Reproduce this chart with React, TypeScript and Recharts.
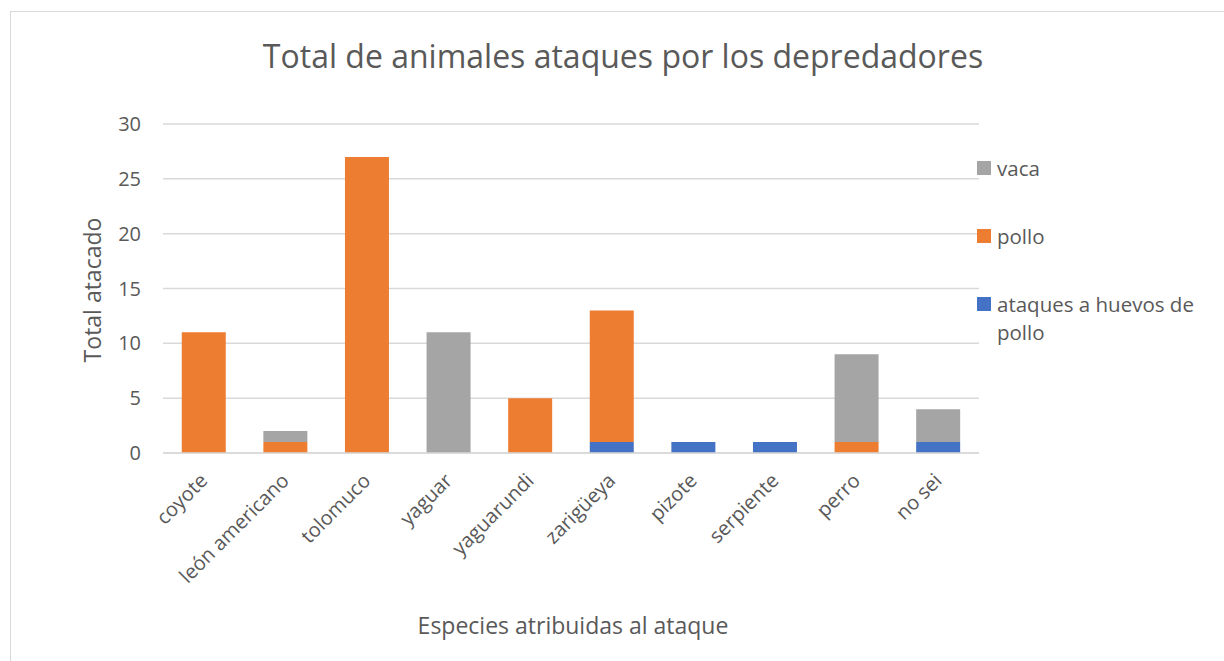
import React from 'react';
import { BarChart, Bar, XAxis, YAxis, CartesianGrid, Legend, Label } from 'recharts';

const categories = ['coyote', 'león americano', 'tolomuco', 'yaguar', 'yaguarundi', 'zarigüeya', 'pizote', 'serpiente', 'perro', 'no sei'];
const huevos = [0, 0, 0, 0, 0, 1, 1, 1, 0, 1];
const pollo = [11, 1, 27, 0, 5, 12, 0, 0, 1, 0];
const vaca = [0, 1, 0, 11, 0, 0, 0, 0, 8, 3];
const yTicks = [0, 5, 10, 15, 20, 25, 30];

const data = categories.map((name, i) => ({ name, huevos: huevos[i], pollo: pollo[i], vaca: vaca[i] }));

const FONT = '"Open Sans", sans-serif';
const TXT = '#595959';

const XTick = (props: any) => {
  const { x, y, payload } = props;
  const ax = x - 7;
  const ay = y + 9;
  return (
    <text
      x={ax}
      y={ay}
      transform={`rotate(-45, ${ax}, ${ay})`}
      textAnchor="end"
      dominantBaseline="hanging"
      fontSize={20}
      fontFamily={FONT}
      fill={TXT}
    >
      {payload.value}
    </text>
  );
};

const legendItems = [
  { key: 'vaca', color: '#A5A5A5', lines: ['vaca'] },
  { key: 'pollo', color: '#ED7D31', lines: ['pollo'] },
  { key: 'huevos', color: '#4472C4', lines: ['ataques a huevos de', 'pollo'] },
];

const LegendContent = () => (
  <div style={{ fontFamily: FONT, fontSize: 20.5, color: TXT }}>
    {legendItems.map((it) => (
      <div key={it.key} style={{ display: 'flex', alignItems: 'flex-start', height: 68 }}>
        <div style={{ width: 14, height: 14, background: it.color, marginTop: 7, marginRight: 6, flex: 'none' }} />
        <div style={{ lineHeight: '28px', whiteSpace: 'nowrap' }}>
          {it.lines.map((l, j) => (
            <div key={j}>{l}</div>
          ))}
        </div>
      </div>
    ))}
  </div>
);

export default function App() {
  return (
    <div style={{ position: 'fixed', left: 0, top: 0, width: 1224, height: 661, background: '#fff', overflow: 'hidden' }}>
      <div style={{ position: 'absolute', left: 10, top: 11, width: 1300, height: 800, borderTop: '1px solid #d9d9d9', borderLeft: '1px solid #d9d9d9' }} />
      <div
        style={{
          position: 'absolute',
          left: 0,
          width: 1246,
          top: 34,
          textAlign: 'center',
          fontFamily: FONT,
          fontSize: 32,
          color: TXT,
          lineHeight: '44px',
        }}
      >
        Total de animales ataques por los depredadores
      </div>
      <div style={{ position: 'absolute', left: 0, top: 0 }}>
        <BarChart
          width={1224}
          height={661}
          data={data}
          margin={{ top: 124, right: 5, bottom: 88, left: 103 }}
          barCategoryGap="23%"
        >
          <CartesianGrid vertical={false} stroke="#d9d9d9" strokeWidth={1.5} />
          <XAxis
            dataKey="name"
            height={120}
            tick={<XTick />}
            tickLine={false}
            axisLine={{ stroke: '#d9d9d9', strokeWidth: 1.5 }}
            interval={0}
          >
            <Label
              content={() => (
                <text x={573} y={634} textAnchor="middle" fontSize={23} fontFamily={FONT} fill={TXT}>
                  Especies atribuidas al ataque
                </text>
              )}
            />
          </XAxis>
          <YAxis
            width={60}
            domain={[0, 30]}
            ticks={yTicks}
            tickLine={false}
            axisLine={false}
            tickSize={0}
            tickMargin={22}
            tick={{ fontSize: 20, fontFamily: FONT, fill: TXT }}
          >
            <Label
              content={() => (
                <text
                  x={101}
                  y={290}
                  transform="rotate(-90, 101, 290)"
                  textAnchor="middle"
                  fontSize={23}
                  fontFamily={FONT}
                  fill={TXT}
                >
                  Total atacado
                </text>
              )}
            />
          </YAxis>
          <Legend
            layout="vertical"
            align="right"
            verticalAlign="top"
            content={<LegendContent />}
            wrapperStyle={{ left: 977, top: 154, width: 240 }}
          />
          <Bar dataKey="huevos" stackId="a" fill="#4472C4" isAnimationActive={false} />
          <Bar dataKey="pollo" stackId="a" fill="#ED7D31" isAnimationActive={false} />
          <Bar dataKey="vaca" stackId="a" fill="#A5A5A5" isAnimationActive={false} />
        </BarChart>
      </div>
    </div>
  );
}
